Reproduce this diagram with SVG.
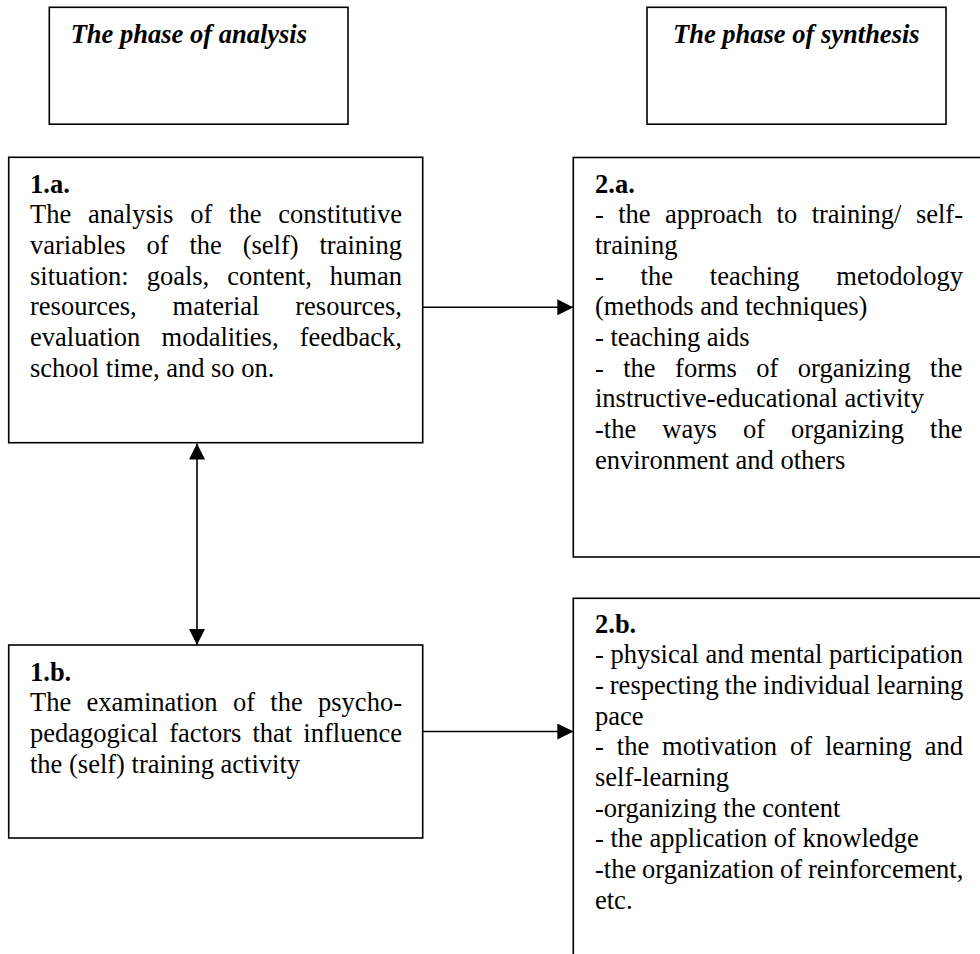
<svg xmlns="http://www.w3.org/2000/svg" width="980" height="954" viewBox="0 0 980 954">
  <defs>
    <style>
      .box { fill: #ffffff; stroke: #000000; stroke-width: 1.6; }
      .t { font-family: "Liberation Serif", "Times New Roman", serif; font-size: 26.5px; fill: #000000; }
      .b { font-weight: bold; }
      .hd { font-weight: bold; font-style: italic; }
      .conn { stroke: #000000; stroke-width: 1.6; fill: none; }
    </style>
    <marker id="ah" viewBox="0 0 16 16" markerWidth="16" markerHeight="16" refX="16" refY="8" orient="auto-start-reverse" markerUnits="userSpaceOnUse">
      <path d="M0,0 L16,8 L0,16 z" fill="#000000"/>
    </marker>
  </defs>
  <rect x="0" y="0" width="980" height="954" fill="#ffffff"/>

  <g id="phase-analysis">
    <rect class="box" x="49.3" y="7.3" width="298.7" height="116.9"/>
    <text class="t hd" x="70.7" y="42.5">The phase of analysis</text>
  </g>

  <g id="phase-synthesis">
    <rect class="box" x="647" y="7.3" width="299" height="116.9"/>
    <text class="t hd" x="673" y="42.5">The phase of synthesis</text>
  </g>

  <g id="node-1a">
    <rect class="box" x="8.7" y="157.3" width="414" height="285.4"/>
    <text class="t b" x="30" y="192.5">1.a.</text>
    <text class="t" x="30" y="223.2" word-spacing="10.2">The analysis of the constitutive</text>
    <text class="t" x="30" y="253.9" word-spacing="14.25">variables of the (self) training</text>
    <text class="t" x="30" y="284.6" word-spacing="11.375">situation: goals, content, human</text>
    <text class="t" x="30" y="315.3" word-spacing="29.27">resources, material resources,</text>
    <text class="t" x="30" y="346" word-spacing="14.52">evaluation modalities, feedback,</text>
    <text class="t" x="30" y="376.7">school time, and so on.</text>
  </g>

  <g id="node-1b">
    <rect class="box" x="8.7" y="645" width="414" height="193"/>
    <text class="t b" x="30" y="680.5">1.b.</text>
    <text class="t" x="30" y="711.2" word-spacing="8.73">The examination of the psycho-</text>
    <text class="t" x="30" y="741.9" word-spacing="4.54">pedagogical factors that influence</text>
    <text class="t" x="30" y="772.6">the (self) training activity</text>
  </g>

  <g id="node-2a">
    <rect class="box" x="573.3" y="157.5" width="430" height="399.5"/>
    <text class="t b" x="595" y="192.5">2.a.</text>
    <text class="t" x="595" y="223.2" word-spacing="7.81">- the approach to training/ self-</text>
    <text class="t" x="595" y="253.9">training</text>
    <text class="t" x="595" y="284.6" word-spacing="30.17">- the teaching metodology</text>
    <text class="t" x="595" y="315.3">(methods and techniques)</text>
    <text class="t" x="595" y="346">- teaching aids</text>
    <text class="t" x="595" y="376.7" word-spacing="12.81">- the forms of organizing the</text>
    <text class="t" x="595" y="407.4">instructive-educational activity</text>
    <text class="t" x="595" y="438.1" word-spacing="19.5">-the ways of organizing the</text>
    <text class="t" x="595" y="468.8">environment and others</text>
  </g>

  <g id="node-2b">
    <rect class="box" x="573.3" y="598.3" width="430" height="400"/>
    <text class="t b" x="595" y="632.7">2.b.</text>
    <text class="t" x="595" y="663.3">- physical and mental participation</text>
    <text class="t" x="595" y="694" word-spacing="-0.65">- respecting the individual learning</text>
    <text class="t" x="595" y="724.7">pace</text>
    <text class="t" x="595" y="755.3" word-spacing="6.33">- the motivation of learning and</text>
    <text class="t" x="595" y="786">self-learning</text>
    <text class="t" x="595" y="816.7">-organizing the content</text>
    <text class="t" x="595" y="847.3">- the application of knowledge</text>
    <text class="t" x="595" y="878" word-spacing="-0.7">-the organization of reinforcement,</text>
    <text class="t" x="595" y="909">etc.</text>
  </g>

  <g id="connectors">
    <line class="conn" x1="422.7" y1="307.3" x2="573.3" y2="307.3" marker-end="url(#ah)"/>
    <line class="conn" x1="197" y1="443.5" x2="197" y2="645" marker-start="url(#ah)" marker-end="url(#ah)"/>
    <line class="conn" x1="422.7" y1="731.5" x2="573.3" y2="731.5" marker-end="url(#ah)"/>
  </g>
</svg>
